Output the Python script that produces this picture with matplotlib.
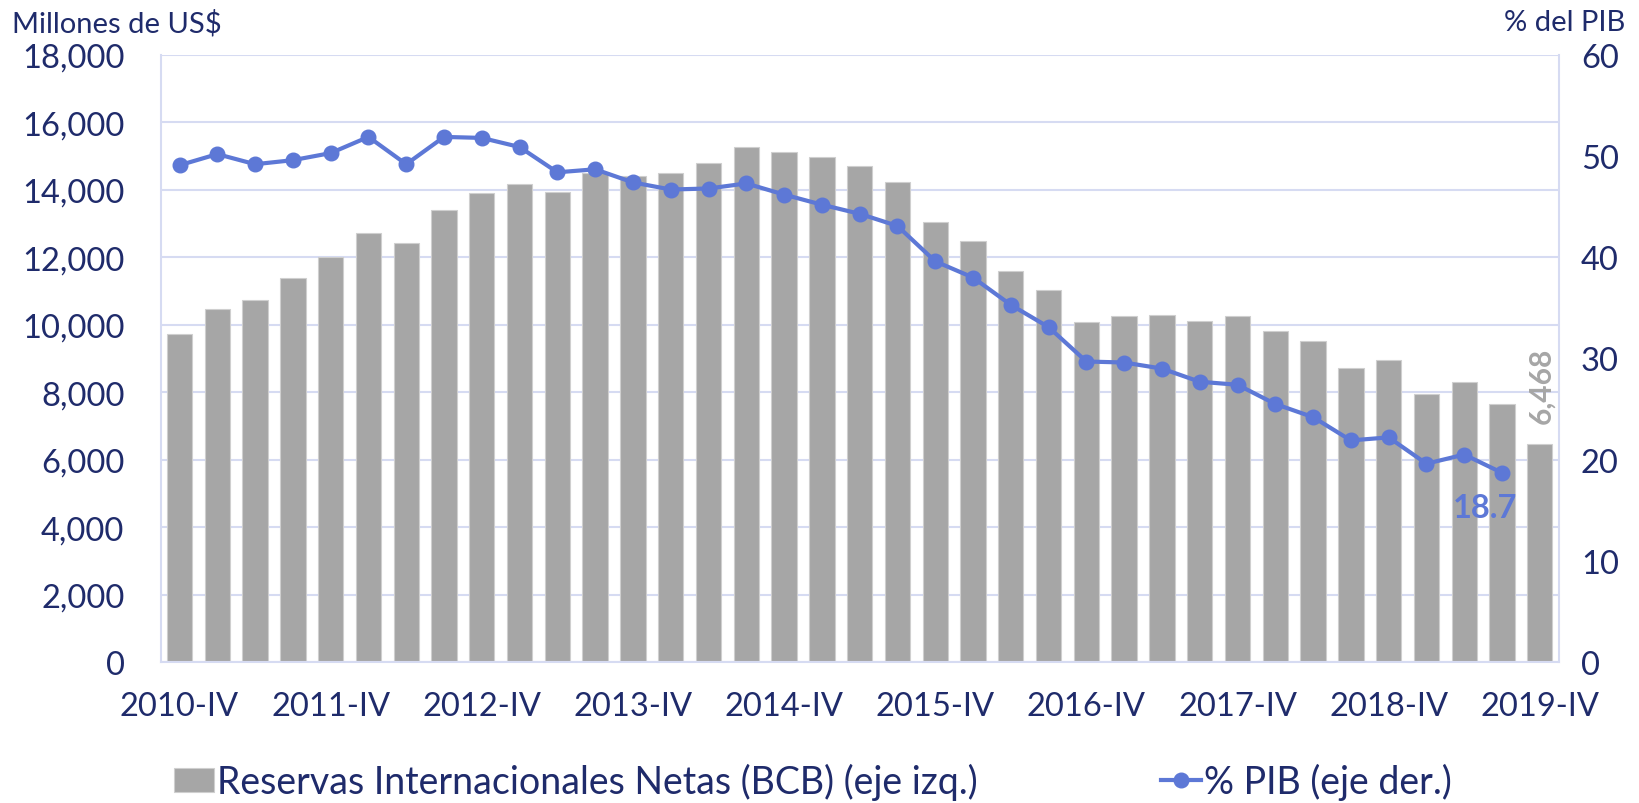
import matplotlib
matplotlib.use('Agg')
import matplotlib.pyplot as plt

plt.rcParams['font.family'] = ['Lato', 'DejaVu Sans']

quarters = [
    '2010-IV', '2011-I', '2011-II', '2011-III', '2011-IV', '2012-I', '2012-II', '2012-III',
    '2012-IV', '2013-I', '2013-II', '2013-III', '2013-IV', '2014-I', '2014-II', '2014-III',
    '2014-IV', '2015-I', '2015-II', '2015-III', '2015-IV', '2016-I', '2016-II', '2016-III',
    '2016-IV', '2017-I', '2017-II', '2017-III', '2017-IV', '2018-I', '2018-II', '2018-III',
    '2018-IV', '2019-I', '2019-II', '2019-III', '2019-IV',
]

# reservas internacionales netas, millones de US$
reservas = [9730, 10470, 10740, 11400, 12010, 12730, 12430, 13400, 13920, 14180,
            13940, 14510, 14420, 14490, 14800, 15260, 15120, 14960, 14700, 14230,
            13050, 12480, 11600, 11030, 10080, 10250, 10300, 10120, 10250, 9800,
            9510, 8720, 8940, 7940, 8310, 7640, 6468]

# % del PIB (hasta 2019-III)
pib = [49.1, 50.2, 49.2, 49.6, 50.3, 51.9, 49.2, 51.9, 51.8, 50.9,
       48.4, 48.7, 47.4, 46.7, 46.8, 47.3, 46.2, 45.2, 44.3, 43.1,
       39.6, 38.0, 35.3, 33.1, 29.7, 29.6, 29.0, 27.7, 27.4, 25.5,
       24.2, 21.9, 22.2, 19.6, 20.5, 18.7]

navy = '#1F2B6B'
grid_col = '#D6DBF2'
bar_col = '#A6A6A6'
line_col = '#5D78D6'

fig = plt.figure(figsize=(16.39, 8.04), dpi=100)
ax = fig.add_axes([0.098, 0.1754, 0.853, 0.755])
ax2 = ax.twinx()

x = list(range(len(quarters)))
bars = ax.bar(x, reservas, width=0.67, color=bar_col, edgecolor='#CFCFCF',
              linewidth=0.8, label='Reservas Internacionales Netas (BCB) (eje izq.)', zorder=2)
line, = ax2.plot(x[:len(pib)], pib, color=line_col, linewidth=3, marker='o',
                 markersize=10.5, label='% PIB (eje der.)', zorder=3)

ax.set_xlim(-0.5, len(quarters) - 0.5)
ax.set_ylim(0, 18000)
ax2.set_ylim(0, 60)
ax.set_yticks(range(0, 18001, 2000))
ax.set_yticklabels([f'{v:,}' for v in range(0, 18001, 2000)])
ax2.set_yticks(range(0, 61, 10))

ax.set_xticks(x[::4])
ax.set_xticklabels(quarters[::4])

ax.grid(axis='y', color=grid_col, linewidth=1.5, zorder=0)
ax.set_axisbelow(True)

for a in (ax, ax2):
    for s in a.spines.values():
        s.set_color(grid_col)
        s.set_linewidth(1.5)
    a.spines['top'].set_visible(False)
ax.spines['right'].set_visible(False)
ax2.spines['left'].set_visible(False)
ax2.spines['bottom'].set_visible(False)

ax.tick_params(axis='y', length=0, pad=26, labelsize=23.5, labelcolor=navy)
ax.tick_params(axis='x', length=0, pad=21, labelsize=23.5, labelcolor=navy)
ax2.tick_params(axis='y', length=0, pad=16, labelsize=23.5, labelcolor=navy)

fig.text(0.0076, 0.971, 'Millones de US$', color=navy, fontsize=21, ha='left', va='center')
fig.text(0.9915, 0.971, '% del PIB', color=navy, fontsize=21, ha='right', va='center')

# data labels
ax2.annotate(f'{pib[-1]:.1f}', xy=(len(pib) - 1, pib[-1]), xytext=(-12, -25),
             textcoords='offset points', ha='center', va='center',
             color=line_col, fontsize=23.5, fontweight='bold')
ax.annotate(f'{reservas[-1]:,}', xy=(len(reservas) - 1, reservas[-1]), xytext=(1, 15),
            textcoords='offset points', ha='center', va='bottom', rotation=90,
            color=bar_col, fontsize=21.5, fontweight='bold')

fig.legend([bars, line], [bars.get_label(), line.get_label()],
           loc='center', bbox_to_anchor=(0.496, 0.027), ncol=2, frameon=False,
           fontsize=27, labelcolor=navy, handlelength=1.05, handleheight=0.62,
           handletextpad=0.08, columnspacing=4.9)

fig.savefig('out.png', dpi=100)
